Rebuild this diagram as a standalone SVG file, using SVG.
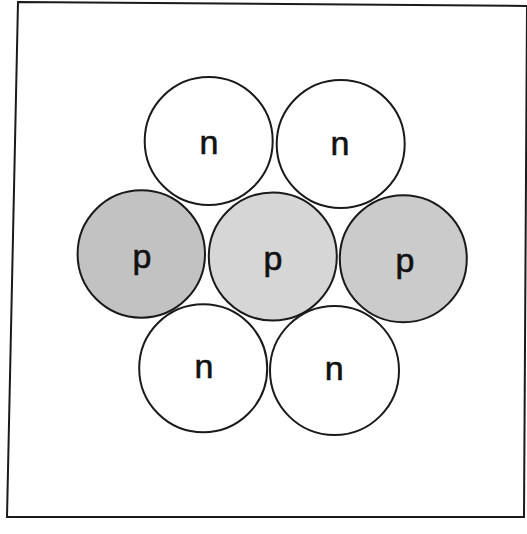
<svg xmlns="http://www.w3.org/2000/svg" width="527" height="534" viewBox="0 0 527 534">
<style>
.c{stroke:#1a1a1a;stroke-width:2}
.n{fill:#ffffff}
.t{font-family:"Liberation Sans",Arial,sans-serif;font-size:34px;fill:#111;text-anchor:middle;stroke:#111;stroke-width:0.6}
</style>
<rect width="527" height="534" fill="#ffffff"/>
<polygon points="18,2 527,6 524,517 7,517" fill="none" stroke="#1a1a1a" stroke-width="2"/>
<g id="connectors"/>
<g id="n1"><circle class="c n" cx="208.7" cy="141" r="64"/><text class="t" x="209" y="154">n</text></g>
<g id="n2"><circle class="c n" cx="340.7" cy="144" r="64"/><text class="t" x="340" y="155">n</text></g>
<g id="p1"><circle class="c" fill="#c2c2c2" cx="141.3" cy="254" r="63.7"/><text class="t" x="142" y="268">p</text></g>
<g id="p2"><circle class="c" fill="#d6d6d6" cx="272.8" cy="256.5" r="64"/><text class="t" x="273" y="270">p</text></g>
<g id="p3"><circle class="c" fill="#cbcbcb" cx="403.3" cy="258.7" r="63.5"/><text class="t" x="405" y="272">p</text></g>
<g id="n3"><circle class="c n" cx="203.2" cy="368.3" r="64"/><text class="t" x="204" y="377.7">n</text></g>
<g id="n4"><circle class="c n" cx="334.5" cy="370.5" r="64.5"/><text class="t" x="334.3" y="380">n</text></g>
</svg>
